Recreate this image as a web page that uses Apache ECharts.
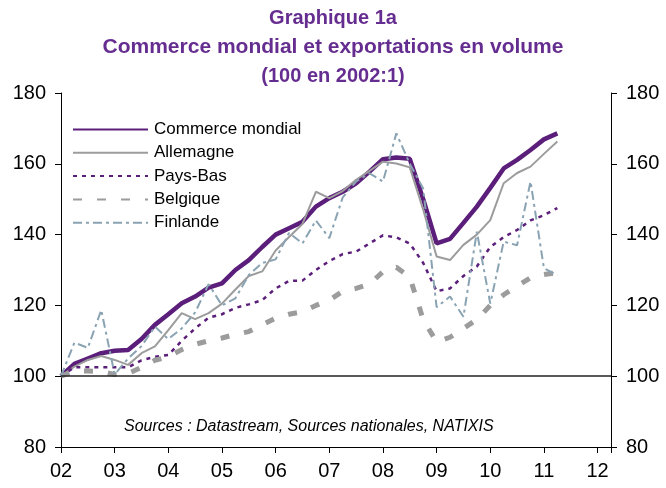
<!DOCTYPE html>
<html><head><meta charset="utf-8">
<script src="https://cdn.jsdelivr.net/npm/echarts@6/dist/echarts.min.js"></script>
<style>html,body{margin:0;padding:0;background:#fff}#c{width:666px;height:488px}</style>
</head><body><div id="c"></div>
<script>
const quarters = ['2002:1','2002:2','2002:3','2002:4','2003:1','2003:2','2003:3','2003:4',
  '2004:1','2004:2','2004:3','2004:4','2005:1','2005:2','2005:3','2005:4',
  '2006:1','2006:2','2006:3','2006:4','2007:1','2007:2','2007:3','2007:4',
  '2008:1','2008:2','2008:3','2008:4','2009:1','2009:2','2009:3','2009:4',
  '2010:1','2010:2','2010:3','2010:4','2011:1','2011:2'];
const commerceMondial = [100,103.5,105,106.5, 107.2,107.4,110.5,114.5, 117.5,120.6,122.5,125,
  126.2,130,132.8,136.5, 140,141.8,143.6,147.9, 150.3,152.1,154.5,157.8,
  161.3,161.8,161.4,150, 137.5,138.8,143.3,147.9, 153.2,158.7,161.1,163.9, 166.9,168.6];
const allemagne = [100,102.7,104.6,105.7, 104.6,103.2,106.5,108.4, 113,117.8,116.1,117.8,
  120.5,124.5,128.3,129.6, 135.5,139.3,143,152.1, 150.3,152.3,155.5,158,
  160.6,160.1,159,147, 133.8,132.8,137.1,140, 144.1,154.5,157.4,159.2, 162.8,166.3];
const paysBas = [100,102.5,102.5,102.5, 102.5,102.5,104.5,105.5, 106,110,113.5,116.5,
  117.5,119.3,120.3,121.5, 124.8,126.9,127,130, 132.5,134.5,135.2,137.5,
  139.8,139.2,137.5,132, 124,124.8,128.3,131, 136.5,139.3,141.3,144, 145.5,147.5];
const belgique = [100,101.5,101.5,101.3, 100.5,100.8,102.5,104.5, 105.5,107.5,109,110,
  110.8,111.8,112.6,114.5, 116.4,117.5,118.2,120, 121.5,124,124.8,126,
  129.5,130.8,128,116, 109.7,111,113.5,116, 120,123,125.5,127.8, 128.7,129.3];
const finlande = [100,109.5,108,118.7, 100.5,105,108.5,114, 110.5,113.5,118,126,
  120,122,128.6,132, 133,140.5,137.5,144, 139,150.5,155,157.3,
  155,168.6,160,153, 119.5,122.5,116.8,140.8, 120.5,138,137,155, 130.5,128.6];
const yearTicks = ['02','03','04','05','06','07','08','09','10','11','12'];
const seriesNames = ['Commerce mondial','Allemagne','Pays-Bas','Belgique','Finlande'];

const xs = quarters.map(q => { const [y, n] = q.split(':').map(Number); return y + (n - 1) / 4; });
const pair = arr => arr.map((v, i) => [xs[i], v]);
const FONT = 'Liberation Sans';
const TITLE_COLOR = '#662D91';

const chart = echarts.init(document.getElementById('c'), null, {renderer: 'canvas'});
const yAxisBase = {
  type: 'value', min: 80, max: 180, interval: 20,
  axisLine: {show: true, lineStyle: {color: '#000', width: 1}},
  axisTick: {show: true, length: 6, lineStyle: {color: '#000'}},
  splitLine: {show: false},
  axisLabel: {color: '#000', fontSize: 20, fontFamily: FONT, margin: 15}
};
chart.setOption({
  animation: false,
  backgroundColor: '#fff',
  title: {
    text: '{a|Graphique 1a}\n{b|Commerce mondial et exportations en volume}\n{a|(100 en 2002:1)}',
    left: 'center', top: 4, padding: 0,
    textStyle: {fontSize: 20, fontWeight: 'bold', color: TITLE_COLOR, lineHeight: 29, fontFamily: FONT,
      rich: {
        a: {fontSize: 20, fontWeight: 'bold', color: TITLE_COLOR, lineHeight: 29, fontFamily: FONT},
        b: {fontSize: 21, fontWeight: 'bold', color: TITLE_COLOR, lineHeight: 29, fontFamily: FONT}
      }}
  },
  legend: {
    orient: 'vertical', left: 72, top: 121, padding: 0,
    itemWidth: 75, itemHeight: 16, itemGap: 6.3,
    itemStyle: {opacity: 0},
    textStyle: {color: '#000', fontSize: 17, fontFamily: FONT, padding: [0,0,0,1]},
    data: seriesNames
  },
  grid: {left: 61, right: 55, top: 93, bottom: 41},
  xAxis: {
    type: 'value', min: 2002, max: 2012.25, interval: 1,
    axisLine: {show: true, onZero: false, lineStyle: {color: '#000', width: 1}},
    axisTick: {show: true, length: 6, lineStyle: {color: '#000'}},
    splitLine: {show: false},
    axisLabel: {color: '#000', fontSize: 20, fontFamily: FONT, margin: 14,
      formatter: v => Number.isInteger(v) ? yearTicks[v - 2002] : ''}
  },
  yAxis: [
    Object.assign({position: 'left'}, yAxisBase),
    Object.assign({position: 'right'}, yAxisBase)
  ],
  graphic: [{
    type: 'text', left: 124, top: 419,
    style: {text: 'Sources : Datastream, Sources nationales, NATIXIS', font: 'italic 16px "Liberation Sans"', fill: '#000'}
  }],
  series: [
    {name: seriesNames[0], type: 'line', data: pair(commerceMondial), symbol: 'none',
      lineStyle: {color: '#5C1E7B', width: 4.5}, itemStyle: {color: '#5C1E7B'},
      markLine: {silent: true, symbol: ['none','none'], label: {show: false},
        lineStyle: {color: '#222', width: 1.5, type: 'solid'}, data: [{yAxis: 100}]}},
    {name: seriesNames[1], type: 'line', data: pair(allemagne), symbol: 'none',
      lineStyle: {color: '#9C9C9C', width: 2}, itemStyle: {color: '#9C9C9C'}},
    {name: seriesNames[2], type: 'line', data: pair(paysBas), symbol: 'none',
      lineStyle: {color: '#5C1E7B', width: 2.5, type: [4, 5]}, itemStyle: {color: '#5C1E7B'}},
    {name: seriesNames[3], type: 'line', data: pair(belgique), symbol: 'none',
      lineStyle: {color: '#9C9C9C', width: 5, type: [9, 15]}, itemStyle: {color: '#9C9C9C'}},
    {name: seriesNames[4], type: 'line', data: pair(finlande), symbol: 'none',
      lineStyle: {color: '#89A3B3', width: 2, type: [9, 4, 3, 4]}, itemStyle: {color: '#89A3B3'}}
  ]
});
</script></body></html>
